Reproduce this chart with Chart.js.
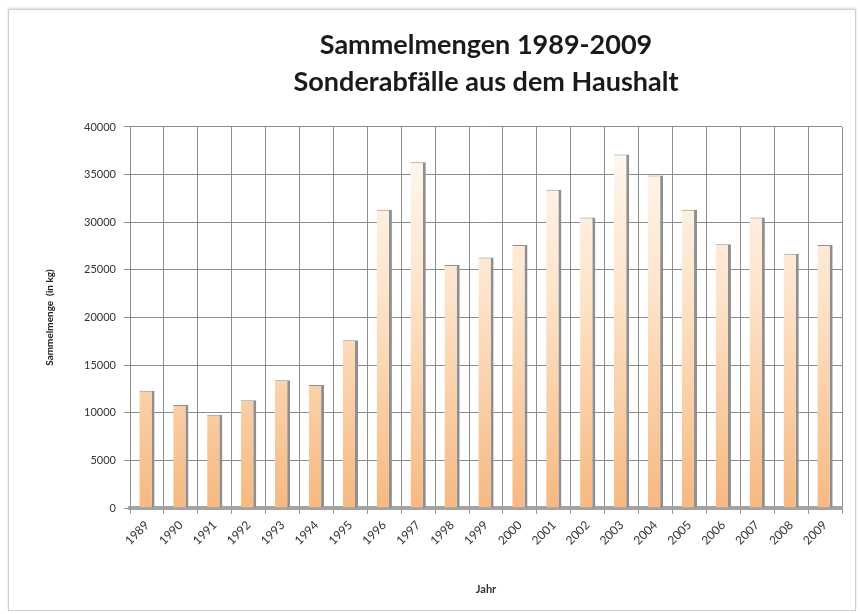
<!DOCTYPE html>
<html>
<head>
<meta charset="utf-8">
<script src="https://cdn.jsdelivr.net/npm/chart.js@4.4.1/dist/chart.umd.min.js"></script>
<style>
  html, body { margin: 0; padding: 0; background: #ffffff; }
  #wrap { position: relative; width: 860px; height: 614px; }
  #frame { position: absolute; left: 8px; top: 9px; width: 846px; height: 600px; border: 1px solid #cfcfcf; box-shadow: 0 -1px 2px #d8d8d8; }
  canvas { position: absolute; left: 0; top: 0; }
</style>
</head>
<body>
<div id="wrap">
  <div id="frame"></div>
  <canvas id="c" width="860" height="614"></canvas>
</div>
<script>
const titleLines = ['Sammelmengen 1989-2009', 'Sonderabfälle aus dem Haushalt'];
const years = ['1989','1990','1991','1992','1993','1994','1995','1996','1997','1998','1999','2000','2001','2002','2003','2004','2005','2006','2007','2008','2009'];
const amounts = [12300, 10800, 9800, 11300, 13400, 12900, 17600, 31300, 36300, 25500, 26300, 27600, 33400, 30500, 37100, 34900, 31300, 27700, 30500, 26700, 27600];
const yTicks = [0, 5000, 10000, 15000, 20000, 25000, 30000, 35000, 40000];
const yTitle = 'Sammelmenge  (in kg)';
const xTitle = 'Jahr';

function barGradient(ctx) {
  const area = ctx.chart.chartArea;
  if (!area) return '#f7c28f';
  const g = ctx.chart.ctx.createLinearGradient(0, area.top, 0, area.bottom);
  g.addColorStop(0, '#fffaf5');
  g.addColorStop(0.45, '#fde3c9');
  g.addColorStop(1, '#f6b981');
  return g;
}

new Chart(document.getElementById('c'), {
  type: 'bar',
  data: {
    labels: years,
    datasets: [{
      data: amounts,
      backgroundColor: barGradient,
      borderColor: '#8f8f8f',
      borderWidth: { top: 1, right: 3, left: 0, bottom: 0 },
      borderSkipped: false,
      barPercentage: 0.45,
      categoryPercentage: 1.0
    }]
  },
  options: {
    responsive: false,
    animation: false,
    devicePixelRatio: 1,
    layout: { padding: { left: 40, right: 18, top: 10, bottom: 18 } },
    plugins: {
      legend: { display: false },
      tooltip: { enabled: false },
      title: {
        display: true,
        fullSize: false,
        text: titleLines,
        color: '#1a1a1a',
        font: { family: 'Lato', size: 27, weight: 'bold', lineHeight: 1.37 },
        padding: { top: 17, bottom: 26 }
      }
    },
    scales: {
      x: {
        offset: true,
        grid: { offset: true, color: '#8e8e8e', lineWidth: 1, drawTicks: true, tickLength: 6, tickColor: '#9a9a9a' },
        border: { display: true, color: '#a3a3a3', width: 4 },
        ticks: { color: '#333333', font: { family: 'Lato', size: 12 }, minRotation: 45, maxRotation: 45, padding: 4 },
        title: { display: true, text: xTitle, color: '#333333', font: { family: 'Lato', size: 11, weight: 'bold' }, padding: { top: 18, bottom: 0 } },
        afterFit: (s) => { s.height = 88; }
      },
      y: {
        min: 0,
        max: 40000,
        afterBuildTicks: (s) => { s.ticks = yTicks.map(v => ({ value: v })); },
        grid: { color: '#8e8e8e', lineWidth: 1, drawTicks: true, tickLength: 6, tickColor: '#8e8e8e' },
        border: { display: true, color: '#8e8e8e', width: 1 },
        ticks: { color: '#333333', font: { family: 'Lato', size: 11 }, padding: 8, callback: (v) => String(v) },
        title: { display: true, text: yTitle, color: '#222222', font: { family: 'Lato', size: 10, weight: 'bold' }, padding: { top: 4, bottom: 20 } },
        afterFit: (s) => { s.width = 90; }
      }
    }
  }
});
</script>
</body>
</html>
